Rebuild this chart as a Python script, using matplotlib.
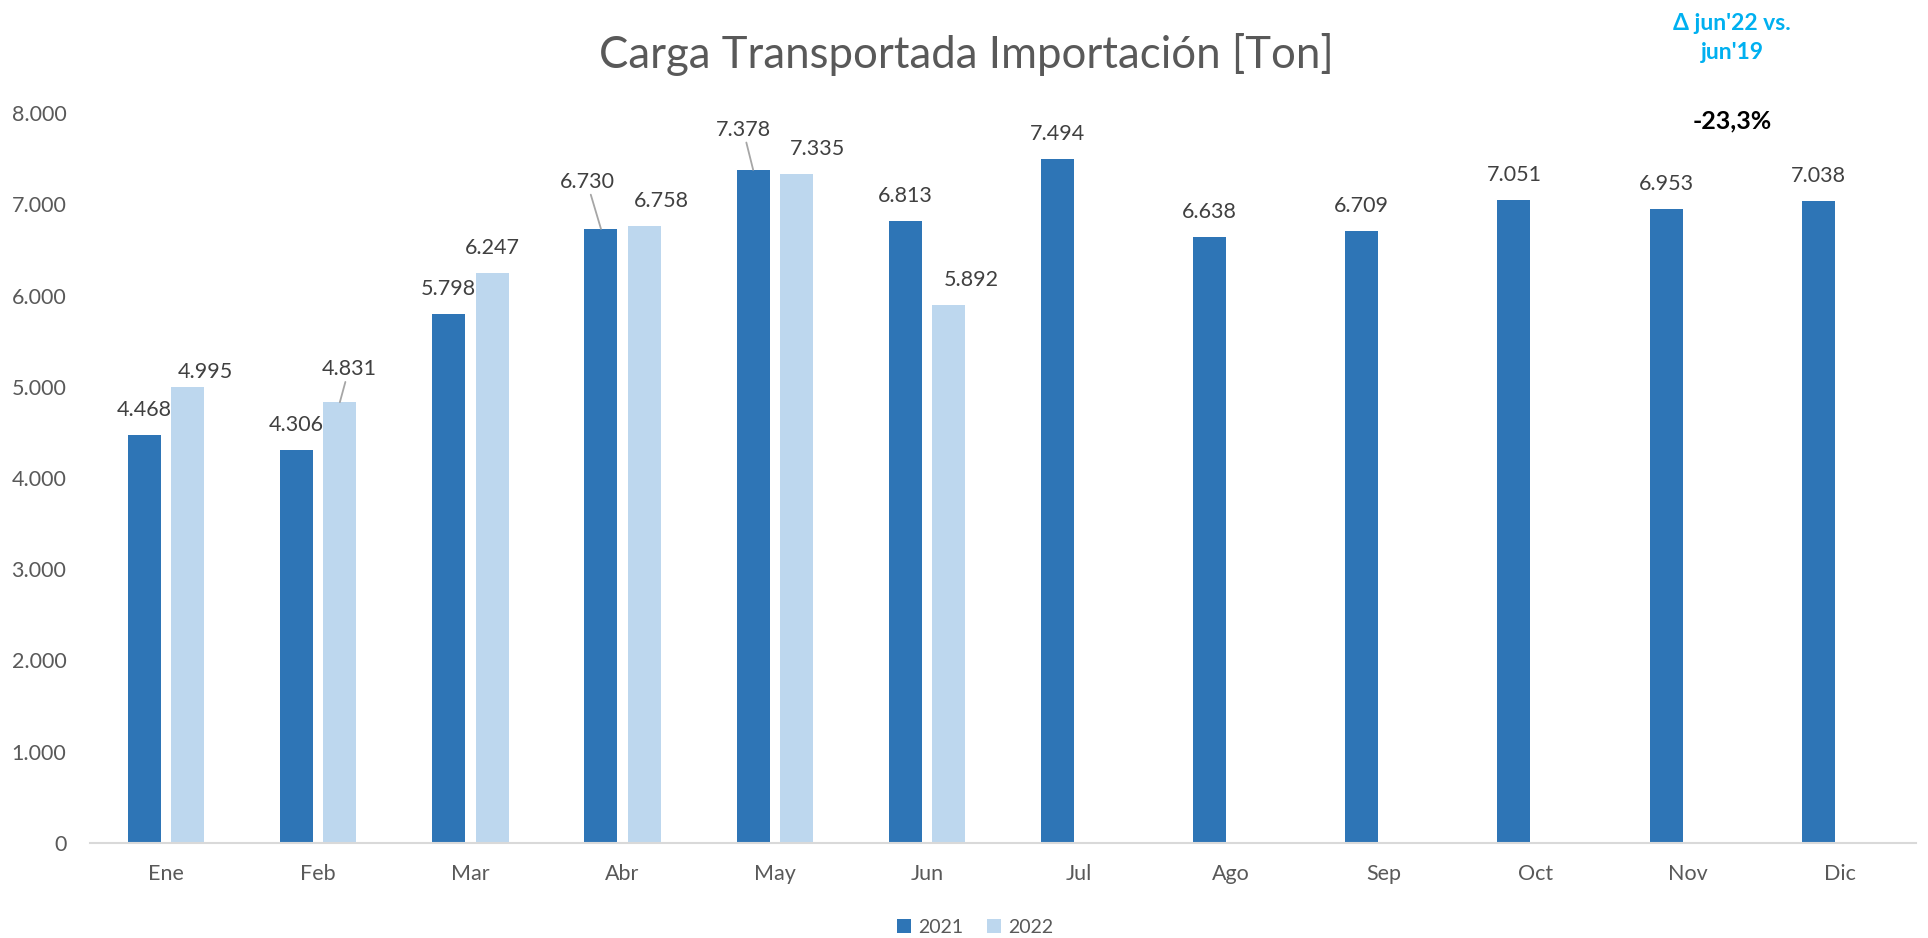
import numpy as np
import matplotlib
matplotlib.use("Agg")
import matplotlib.pyplot as plt
from matplotlib.patches import Patch

plt.rcParams['font.family'] = ['Lato', 'DejaVu Sans']

months = ['Ene', 'Feb', 'Mar', 'Abr', 'May', 'Jun', 'Jul', 'Ago', 'Sep', 'Oct', 'Nov', 'Dic']
v2021 = [4468, 4306, 5798, 6730, 7378, 6813, 7494, 6638, 6709, 7051, 6953, 7038]
v2022 = [4995, 4831, 6247, 6758, 7335, 5892]
series_names = ['2021', '2022']
title = 'Carga Transportada Importación [Ton]'
note_head = "Δ jun'22 vs.\njun'19"
note_value = '-23,3%'

C2021 = '#2E75B6'
C2022 = '#BDD7EE'
TXT = '#404040'
AX = '#595959'

# label offsets (pixels) from the top of each bar, and whether a leader line is drawn
off2021 = {3: (-14, 47), 4: (-10, 40)}
off2022 = {0: (18, 15), 1: (9, 33), 3: (17, 25), 4: (21, 25), 5: (23, 25)}
leaders = {('2021', 3), ('2021', 4), ('2022', 1)}


def fmt(v):
    return f"{v:,.0f}".replace(",", ".")


fig = plt.figure(figsize=(19.28, 9.38), dpi=100)
ax = fig.add_axes([90 / 1928, 1 - 843 / 938, 1826 / 1928, (843 - 113) / 938])

x = np.arange(len(months))
w = 0.217
dx = 0.142
b1 = ax.bar(x - dx, v2021, width=w, color=C2021, zorder=2)
b2 = ax.bar(x[:len(v2022)] + dx, v2022, width=w, color=C2022, zorder=2)


def label(bars, vals, offs, name):
    for i, (b, v) in enumerate(zip(bars, vals)):
        ox, oy = offs.get(i, (0, 25))
        cx = b.get_x() + b.get_width() / 2
        kw = {}
        if (name, i) in leaders:
            kw['arrowprops'] = dict(arrowstyle='-', color='#A6A6A6', lw=1.3,
                                    shrinkA=0, shrinkB=0)
        ax.annotate(fmt(v), xy=(cx, v), xytext=(ox, oy), textcoords='offset pixels',
                    ha='center', va='center', fontsize=15.5, color=TXT, **kw)


label(b1, v2021, off2021, '2021')
label(b2, v2022, off2022, '2022')

ax.set_xlim(-0.5, len(months) - 0.5)
ax.set_ylim(0, 8000)
ax.set_yticks(np.arange(0, 8001, 1000))
ax.set_yticklabels([fmt(t) for t in np.arange(0, 8001, 1000)])
ax.set_xticks(x)
ax.set_xticklabels(months)
ax.tick_params(axis='y', length=0, pad=17, labelsize=15.5, labelcolor=AX)
ax.tick_params(axis='x', length=0, pad=15, labelsize=15.5, labelcolor=AX)
for s in ['top', 'right', 'left']:
    ax.spines[s].set_visible(False)
ax.spines['bottom'].set_color('#D9D9D9')
ax.spines['bottom'].set_linewidth(1.5)

fig.text(966 / 1928, 1 - 55 / 938, title, ha='center', va='center',
         fontsize=31.5, color=AX)

fig.text(1732 / 1928, 1 - 38 / 938, note_head, ha='center', va='center',
         fontsize=16.5, fontweight='bold', color='#00B0F0', linespacing=1.5)
fig.text(1732 / 1928, 1 - 121 / 938, note_value, ha='center', va='center',
         fontsize=18, fontweight='bold', color='black')

handles = [Patch(facecolor=C2021), Patch(facecolor=C2022)]
fig.legend(handles, series_names, loc='center', bbox_to_anchor=(975 / 1928, 1 - 927 / 938),
           ncol=2, frameon=False, fontsize=14, labelcolor=AX,
           handlelength=0.75, handleheight=0.75, handletextpad=0.35, columnspacing=1.2,
           borderpad=0, borderaxespad=0)

fig.savefig('out.png', dpi=100)
